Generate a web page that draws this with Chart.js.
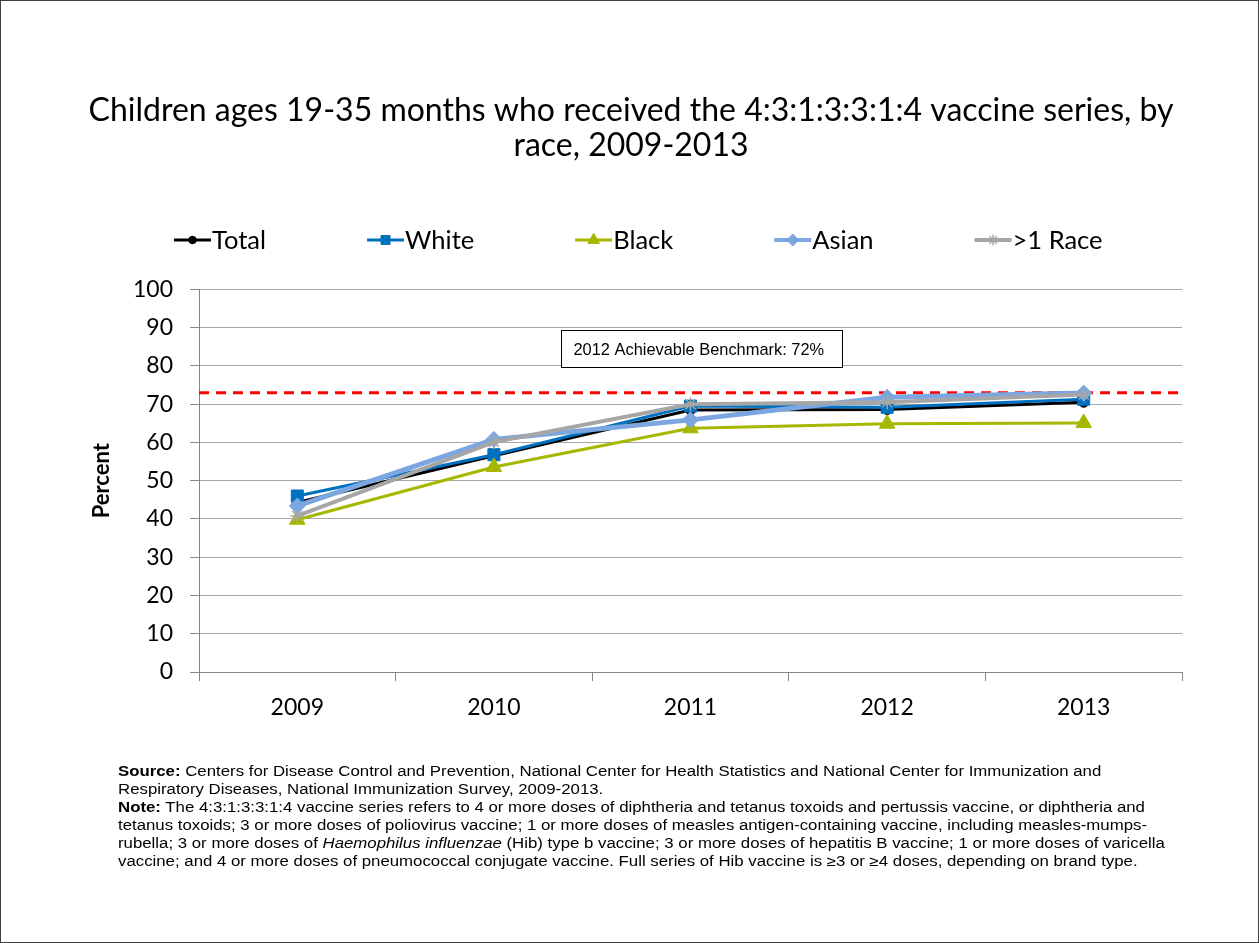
<!DOCTYPE html>
<html>
<head>
<meta charset="utf-8">
<script src="https://cdn.jsdelivr.net/npm/chart.js@4"></script>
<style>
  html, body { margin: 0; padding: 0; background: #fff; }
  #wrap { position: relative; width: 1259px; height: 943px; box-sizing: border-box; border: 1px solid #404040; overflow: hidden; }
  #chart { position: absolute; left: -1px; top: -1px; }
  #notes { position: absolute; left: 117px; top: 761px; font-family: 'Liberation Sans', Arial, sans-serif; font-size: 14px; line-height: 18px; color: #000; white-space: nowrap; transform: scaleX(1.2); transform-origin: 0 0; }
</style>
</head>
<body>
<div id="wrap">
  <canvas id="chart" width="1259" height="943"></canvas>
  <div id="notes">
    <b>Source:</b> Centers for Disease Control and Prevention, National Center for Health Statistics and National Center for Immunization and<br>
    Respiratory Diseases, National Immunization Survey, 2009-2013.<br>
    <b>Note:</b> The 4:3:1:3:3:1:4 vaccine series refers to 4 or more doses of diphtheria and tetanus toxoids and pertussis vaccine, or diphtheria and<br>
    tetanus toxoids; 3 or more doses of poliovirus vaccine; 1 or more doses of measles antigen-containing vaccine, including measles-mumps-<br>
    rubella; 3 or more doses of <i>Haemophilus influenzae</i> (Hib) type b vaccine; 3 or more doses of hepatitis B vaccine; 1 or more doses of varicella<br>
    vaccine; and 4 or more doses of pneumococcal conjugate vaccine. Full series of Hib vaccine is ≥3 or ≥4 doses, depending on brand type.
  </div>
</div>
<script>
const years = ['2009', '2010', '2011', '2012', '2013'];
const totalVals = [44.3, 56.5, 68.5, 68.6, 70.5];
const whiteVals = [46.0, 56.8, 69.5, 69.2, 71.3];
const blackVals = [39.8, 53.6, 63.7, 64.9, 65.1];
const asianVals = [43.4, 60.8, 65.9, 71.8, 72.9];
const multiVals = [40.8, 60.1, 70.0, 70.5, 72.5];
const yTicks = [0, 10, 20, 30, 40, 50, 60, 70, 80, 90, 100];
const benchmarkValue = 73;
const benchmarkText = '2012 Achievable Benchmark: 72%';

// benchmark: red dashed line + boxed label
const benchmarkPlugin = {
    id: 'benchmark',
    beforeDatasetsDraw(chart) {
        const { ctx, chartArea } = chart;
        const y = chart.scales.y.getPixelForValue(benchmarkValue);
        ctx.save();
        ctx.setLineDash([10, 7]);
        ctx.strokeStyle = '#ff0000';
        ctx.lineWidth = 3;
        ctx.beginPath();
        ctx.moveTo(chartArea.left, y);
        ctx.lineTo(chartArea.right, y);
        ctx.stroke();
        ctx.restore();
    },
    afterDraw(chart) {
        const { ctx } = chart;
        const xs = chart.scales.x;
        const ys = chart.scales.y;
        const left = Math.round(xs.getPixelForValue(1.34)) + 0.5;
        const right = Math.round(xs.getPixelForValue(2.77)) + 0.5;
        const top = Math.round(ys.getPixelForValue(89.3)) + 0.5;
        const bottom = Math.round(ys.getPixelForValue(79.7)) + 0.5;
        ctx.save();
        ctx.fillStyle = '#fff';
        ctx.fillRect(left, top, right - left, bottom - top);
        ctx.strokeStyle = '#000';
        ctx.lineWidth = 1;
        ctx.strokeRect(left, top, right - left, bottom - top);
        ctx.fillStyle = '#000';
        ctx.font = '16.4px "Liberation Sans", Arial, sans-serif';
        ctx.textAlign = 'left';
        ctx.textBaseline = 'middle';
        ctx.fillText(benchmarkText, left + 12, (top + bottom) / 2 + 1);
        ctx.restore();
    },
};

// Excel-like legend: short line with marker, then label
const lineLegend = {
    id: 'lineLegend',
    afterDraw(chart) {
        const { ctx } = chart;
        const y = 240;
        let x = 174;
        ctx.save();
        ctx.font = '25.5px Lato, sans-serif';
        ctx.textBaseline = 'middle';
        chart.data.datasets.forEach((ds) => {
            ctx.strokeStyle = ds.borderColor;
            ctx.lineWidth = Math.min(ds.borderWidth, 4);
            ctx.beginPath();
            ctx.moveTo(x, y);
            ctx.lineTo(x + 37, y);
            ctx.stroke();
            ctx.fillStyle = ds.pointBackgroundColor;
            ctx.strokeStyle = ds.pointBorderColor;
            ctx.lineWidth = ds.pointBorderWidth;
            Chart.helpers.drawPoint(ctx, {
                pointStyle: ds.pointStyle,
                radius: ds.pointRadius * 0.75,
                rotation: 0,
                borderWidth: ds.pointBorderWidth,
            }, x + 18.5, y);
            ctx.fillStyle = '#000';
            ctx.fillText(ds.label, x + 38, y + 1);
            x += 38 + ctx.measureText(ds.label).width + 101;
        });
        ctx.restore();
    },
};

function series(label, data, color, width, style, radius, order, fill) {
    return {
        label: label,
        data: data,
        borderColor: color,
        borderWidth: width,
        pointStyle: style,
        pointRadius: radius,
        pointBackgroundColor: fill || color,
        pointBorderColor: color,
        pointBorderWidth: 1,
        tension: 0,
        order: order,
    };
}

new Chart(document.getElementById('chart').getContext('2d'), {
    type: 'line',
    data: {
        labels: years,
        datasets: [
            series('Total', totalVals, '#000000', 3, 'circle', 5, 5),
            series('White', whiteVals, '#0070c0', 3, 'rect', 8.5, 4),
            series('Black', blackVals, '#a6b700', 3, 'triangle', 9, 3),
            series('Asian', asianVals, '#7ba6e0', 5, 'rectRot', 8, 2),
            Object.assign(series('>1 Race', multiVals, '#a6a6a6', 4, 'star', 7, 1), { pointBorderWidth: 1.5 }),
        ],
    },
    options: {
        responsive: false,
        animation: false,
        layout: { padding: { left: 80, right: 77, top: 0, bottom: 211 } },
        plugins: {
            legend: { display: false },
            tooltip: { enabled: false },
            title: {
                display: true,
                text: ['Children ages 19-35 months who received the 4:3:1:3:3:1:4 vaccine series, by', 'race, 2009-2013'],
                color: '#000',
                font: { family: 'Lato, sans-serif', size: 32, weight: 'normal', lineHeight: 1.1 },
                padding: { top: 93, bottom: 126 },
            },
        },
        scales: {
            x: {
                offset: true,
                grid: { offset: true, drawOnChartArea: false, drawTicks: true, tickLength: 9, color: '#868686' },
                border: { color: '#868686' },
                ticks: { color: '#000', font: { family: 'Lato, sans-serif', size: 23 }, padding: 13 },
                afterFit: (scale) => { scale.height = 60; },
            },
            y: {
                min: 0,
                max: 100,
                afterBuildTicks: (scale) => { scale.ticks = yTicks.map((v) => ({ value: v })); },
                grid: { color: '#a6a6a6', tickLength: 9, tickColor: '#868686' },
                border: { color: '#868686' },
                ticks: { color: '#000', font: { family: 'Lato, sans-serif', size: 23 }, padding: 17 },
                title: {
                    display: true,
                    text: 'Percent',
                    color: '#000',
                    font: { family: 'Lato, sans-serif', size: 22, weight: 'bold' },
                    padding: { top: 9, bottom: 0 },
                },
                afterFit: (scale) => { scale.width = 119; },
            },
        },
    },
    plugins: [benchmarkPlugin, lineLegend],
});
</script>
</body>
</html>
